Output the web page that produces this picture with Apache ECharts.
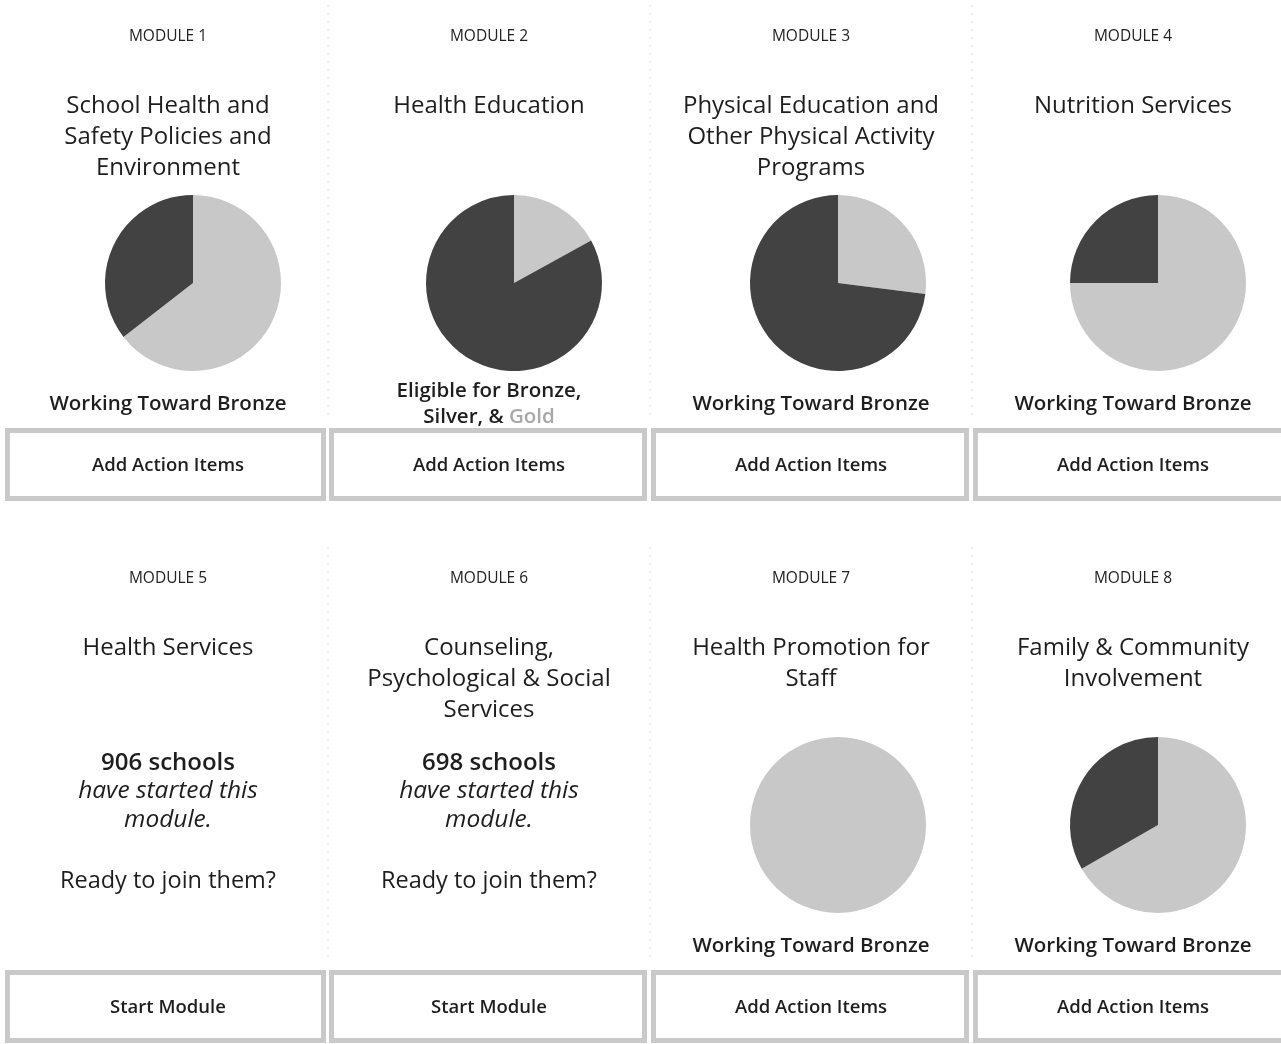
<!DOCTYPE html>
<html>
<head>
<meta charset="utf-8">
<script src="https://cdn.jsdelivr.net/npm/echarts@6/dist/echarts.min.js"></script>
<style>
html,body{margin:0;padding:0;background:#fff;}
#c{width:1281px;height:1044px;}
</style>
</head>
<body>
<div id="c"></div>
<script>
// ---- data ----
const moduleLabels = ['MODULE 1','MODULE 2','MODULE 3','MODULE 4','MODULE 5','MODULE 6','MODULE 7','MODULE 8'];
const moduleTitles = [
  ['School Health and','Safety Policies and','Environment'],
  ['Health Education'],
  ['Physical Education and','Other Physical Activity','Programs'],
  ['Nutrition Services'],
  ['Health Services'],
  ['Counseling,','Psychological & Social','Services'],
  ['Health Promotion for','Staff'],
  ['Family & Community','Involvement']
];
const progressLight = [64.5, 17, 27, 75, null, null, 100, 66.7];
const progressDark  = [35.5, 83, 73, 25, null, null, 0, 33.3];
const statusText = [
  ['Working Toward Bronze'],
  ['Eligible for Bronze,','Silver, & {g|Gold}'],
  ['Working Toward Bronze'],
  ['Working Toward Bronze'],
  null, null,
  ['Working Toward Bronze'],
  ['Working Toward Bronze']
];
const schoolsStarted = [null, null, null, null, 906, 698, null, null];
const buttonText = ['Add Action Items','Add Action Items','Add Action Items','Add Action Items','Start Module','Start Module','Add Action Items','Add Action Items'];

// ---- layout ----
const colCenters = [168, 489, 811, 1133];
const pieCenters = [193, 514, 838, 1158];
const btnLeft = [5, 329, 651, 973];
const btnRight = [326, 647, 969, 1289];
const rowOffset = [0, 542];
const FONT = '"Open Sans", "Noto Sans", sans-serif';
const LIGHT = '#c8c8c8', DARK = '#424242';
const INK = '#1e1e1e';

const graphic = [];
const series = [];

// faint dotted column separators
[328, 650, 972].forEach(x => {
  [0, 542].forEach(o => {
    graphic.push({type:'line', silent:true, shape:{x1:x, y1:o + 5, x2:x, y2:o + 420},
      style:{stroke:'#dcdcdc', lineWidth:1, lineDash:[2,6]}});
  });
});

function txt(t, x, y, font, extra) {
  graphic.push({type:'text', silent:true, style:Object.assign({text:t, x:x, y:y,
    textAlign:'center', textVerticalAlign:'middle', font:font, fill:INK}, extra || {})});
}

for (let i = 0; i < 8; i++) {
  const col = i % 4, row = Math.floor(i / 4);
  const cx = colCenters[col], o = rowOffset[row];
  txt(moduleLabels[i], cx, o + 37, '500 15.5px ' + FONT, {fill:'#222'});
  moduleTitles[i].forEach((t, k) => txt(t, cx, o + 106 + k * 31, '24px ' + FONT));
  if (progressLight[i] !== null) {
    series.push({
      type:'pie', silent:true, animation:false,
      center:[pieCenters[col], o + 283],
      radius:88, startAngle:90, clockwise:true,
      label:{show:false}, labelLine:{show:false},
      itemStyle:{borderWidth:0},
      data:[
        {name:'Completed', value:progressLight[i], itemStyle:{color:LIGHT}},
        {name:'Remaining', value:progressDark[i], itemStyle:{color:DARK}}
      ]
    });
  }
  if (statusText[i]) {
    const lines = statusText[i];
    const baseY = lines.length === 1 ? o + 404 : o + 391;
    lines.forEach((t, k) => txt(t, cx, baseY + k * 26, '600 20.5px ' + FONT,
      {rich:{g:{fill:'#a8a8a8', font:'600 20.5px ' + FONT}}}));
  }
  if (schoolsStarted[i] !== null) {
    txt(schoolsStarted[i] + ' schools', cx, o + 221, '600 24px ' + FONT);
    ['have started this','module.'].forEach((t, k) => txt(t, cx, o + 249 + k * 29, 'italic 24.5px ' + FONT));
    txt('Ready to join them?', cx, o + 339, '23.5px ' + FONT);
  }
  // button
  const top = o + 428, bottom = o + 501;
  graphic.push({type:'rect', silent:true,
    shape:{x:btnLeft[col] + 2.5, y:top + 2.5, width:btnRight[col] - btnLeft[col] - 5, height:bottom - top - 5},
    style:{fill:'#fff', stroke:'#c9c9c9', lineWidth:5}});
  txt(buttonText[i], cx, o + 466, '600 18.5px ' + FONT);
}

const chart = echarts.init(document.getElementById('c'), null, {renderer:'canvas'});
chart.setOption({
  animation:false,
  backgroundColor:'#fff',
  graphic:graphic,
  series:series
});
</script>
</body>
</html>
